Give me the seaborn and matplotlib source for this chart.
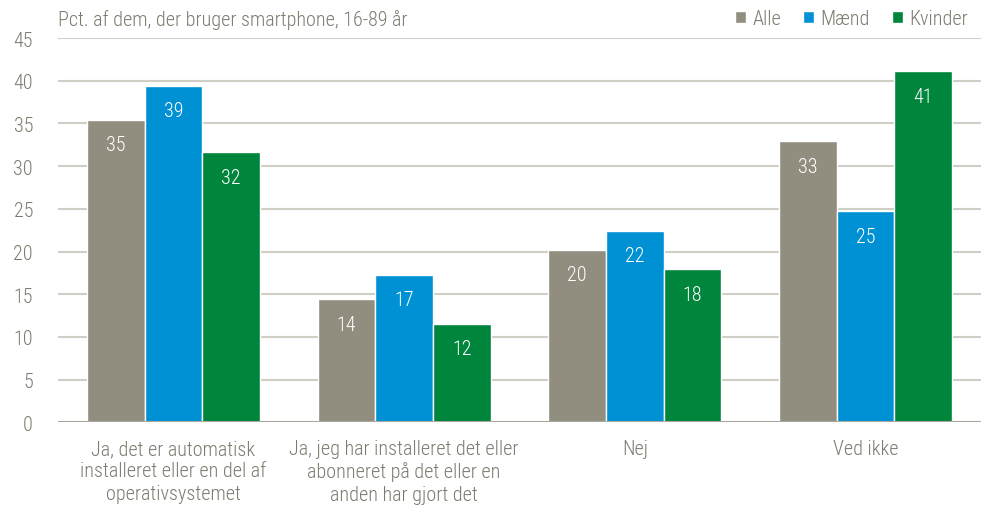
import matplotlib
matplotlib.use("Agg")
import matplotlib.pyplot as plt
import seaborn as sns
import pandas as pd

categories = [
    "Ja, det er automatisk\ninstalleret eller en del af\noperativsystemet",
    "Ja, jeg har installeret det eller\nabonneret på det eller en\nanden har gjort det",
    "Nej",
    "Ved ikke",
]
groups = ["Alle", "Mænd", "Kvinder"]
alle = [35.4, 14.4, 20.2, 32.9]
maend = [39.4, 17.3, 22.4, 24.7]
kvinder = [31.6, 11.5, 17.9, 41.1]
yticks = [0, 5, 10, 15, 20, 25, 30, 35, 40, 45]
title = "Pct. af dem, der bruger smartphone, 16-89 år"

colors = ["#918E7F", "#0091D5", "#00853C"]
text_color = "#7C7B6E"
grid_color = "#CFCFC6"
fs = 14.5

sns.set_theme(style="white")
plt.rcParams["font.family"] = ["Roboto Condensed", "DejaVu Sans"]
plt.rcParams["font.weight"] = 300

df = pd.DataFrame({
    "kategori": categories * 3,
    "gruppe": [g for g in groups for _ in categories],
    "pct": alle + maend + kvinder,
})

fig = plt.figure(figsize=(9.87, 5.10), dpi=100)
ax = fig.add_axes([0.0588, 0.170, 0.935, 0.7535])

sns.barplot(data=df, x="kategori", y="pct", hue="gruppe", order=categories,
            hue_order=groups, palette=colors, width=0.75, saturation=1,
            edgecolor="white", linewidth=1.0, errorbar=None, ax=ax, zorder=3)

ax.set_ylim(0, 45)
ax.set_xlim(-0.5, len(categories) - 0.5)
ax.set_yticks(yticks)
ax.set_yticklabels([str(t) for t in yticks])
ax.set_xlabel("")
ax.set_ylabel("")
for y in yticks[1:]:
    ax.axhline(y, color=grid_color, lw=1.5, zorder=1)
ax.axhline(0, color="#A9A89E", lw=1.5, zorder=4)
for s in ax.spines.values():
    s.set_visible(False)
ax.tick_params(axis="both", length=0, labelsize=fs, colors=text_color)
ax.tick_params(axis="y", pad=18)
ax.tick_params(axis="x", pad=12)
for lbl in ax.get_xticklabels():
    lbl.set_linespacing(1.22)

# value labels inside the top of each bar
for cont in ax.containers:
    for bar in cont:
        h = bar.get_height()
        ax.text(bar.get_x() + bar.get_width() / 2, h - 2.9, f"{h:.0f}",
                ha="center", va="center", color="white", fontsize=fs, zorder=5)

ax.text(0.0, 1.0 + 9 / 384, title, transform=ax.transAxes, ha="left",
        va="bottom", color=text_color, fontsize=fs)

handles, labels = ax.get_legend_handles_labels()
ax.legend_.remove()
fig.legend(handles, labels, loc="upper right", bbox_to_anchor=(0.999, 1.015),
           ncol=3, frameon=False, handlelength=0.55, handleheight=0.55,
           handletextpad=0.3, columnspacing=1.1, fontsize=fs,
           labelcolor=text_color)

fig.savefig("out.png", dpi=100, facecolor="white")
